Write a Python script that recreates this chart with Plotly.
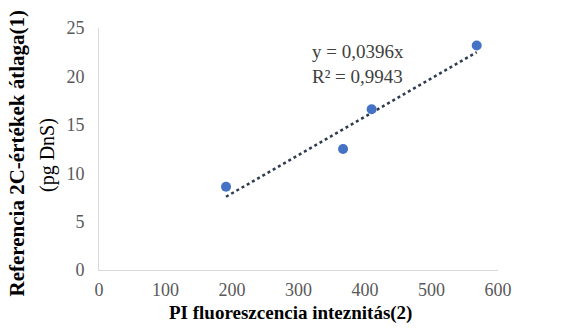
import plotly.graph_objects as go

x_vals = [191, 367, 410, 568]
y_vals = [8.6, 12.5, 16.6, 23.2]
slope = 0.0396
x_title = "PI fluoreszcencia inteznitás(2)"
y_title_1 = "Referencia 2C-értékek átlaga(1)"
y_title_2 = "(pg DnS)"
eq_text = "y = 0,0396x<br>R² = 0,9943"
x_ticks = [0, 100, 200, 300, 400, 500, 600]
y_ticks = [0, 5, 10, 15, 20, 25]

font_family = "Liberation Serif"

trend_x = [min(x_vals), max(x_vals)]
trend_y = [slope * v for v in trend_x]

fig = go.Figure()
fig.add_trace(go.Scatter(x=trend_x, y=trend_y, mode="lines",
                         line=dict(color="#2F3B4F", width=2.5, dash="dot"),
                         hoverinfo="skip", showlegend=False))
fig.add_trace(go.Scatter(x=x_vals, y=y_vals, mode="markers",
                         marker=dict(color="#4472C4", size=10),
                         showlegend=False))

fig.update_layout(
    width=572, height=336,
    margin=dict(l=99, r=74, t=28, b=66),
    paper_bgcolor="white", plot_bgcolor="white",
    font=dict(family=font_family, color="#595959", size=18),
    xaxis=dict(range=[0, 600], tickvals=x_ticks, showgrid=False, zeroline=False,
               showline=True, linecolor="#D9D9D9", linewidth=1,
               ticks="outside", ticklen=3, tickcolor="rgba(0,0,0,0)",
               tickfont=dict(family=font_family, size=18, color="#595959")),
    yaxis=dict(range=[0, 25], tickvals=y_ticks, showgrid=False, zeroline=False,
               showline=True, linecolor="#D9D9D9", linewidth=1,
               ticks="outside", ticklen=10, tickcolor="rgba(0,0,0,0)",
               tickfont=dict(family=font_family, size=18, color="#595959")),
    annotations=[
        dict(text="<b>" + y_title_1 + "</b>", xref="paper", yref="paper",
             x=(16 - 99) / 399, y=(270 - 153.5) / 242, xanchor="center", yanchor="middle",
             textangle=-90, showarrow=False,
             font=dict(family=font_family, size=21, color="black")),
        dict(text=y_title_2, xref="paper", yref="paper",
             x=(47 - 99) / 399, y=(270 - 155) / 242, xanchor="center", yanchor="middle",
             textangle=-90, showarrow=False,
             font=dict(family=font_family, size=20, color="black")),
        dict(text="<b>" + x_title + "</b>", xref="paper", yref="paper",
             x=(290 - 99) / 399, y=(270 - 313) / 242, xanchor="center", yanchor="middle",
             showarrow=False,
             font=dict(family=font_family, size=19, color="black")),
        dict(text=eq_text, x=(310 - 99) / 0.665, y=(270 - 64) / 9.68, xref="x", yref="y",
             xanchor="left", yanchor="middle",
             showarrow=False, align="left",
             font=dict(family=font_family, size=19, color="#404040")),
    ],
)

fig.write_html("out.html")
